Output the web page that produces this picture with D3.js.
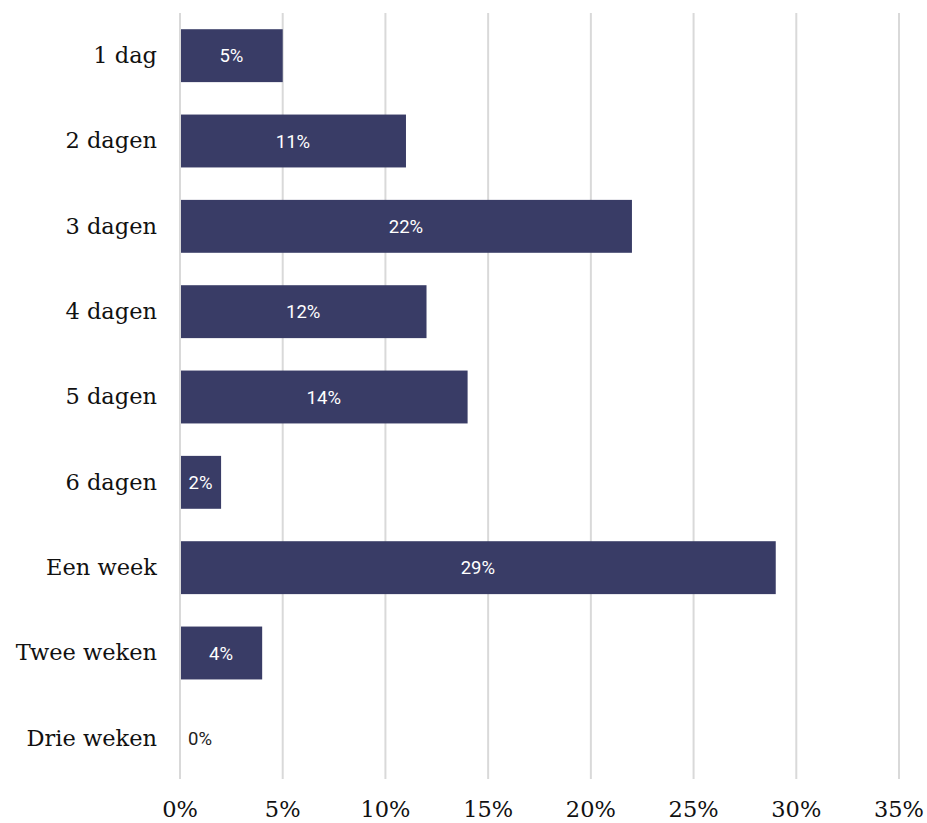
<!DOCTYPE html>
<html><head><meta charset="utf-8">
<script src="https://cdn.jsdelivr.net/npm/d3@7"></script>
<style>body{margin:0;background:#fff}</style>
</head><body><svg id="c" width="927" height="823"></svg>
<script>
const categories = ["1 dag","2 dagen","3 dagen","4 dagen","5 dagen","6 dagen","Een week","Twee weken","Drie weken"];
const values = [5,11,22,12,14,2,29,4,0];
const xTicks = [0,5,10,15,20,25,30,35];

const svg = d3.select("#c");
const x = d3.scaleLinear().domain([0,35]).range([180,899]);
const y = d3.scaleBand().domain(categories).range([13,781]).paddingInner(0.38).paddingOuter(0.19);

svg.append("g").selectAll("line").data(xTicks).join("line")
  .attr("x1",d=>x(d)).attr("x2",d=>x(d)).attr("y1",13).attr("y2",779)
  .attr("stroke","#d9d9d9").attr("stroke-width",2);

svg.append("g").selectAll("rect").data(values).join("rect")
  .attr("x",x(0)+1).attr("y",(d,i)=>y(categories[i]))
  .attr("width",d=>Math.max(0,x(d)-x(0)-1)).attr("height",y.bandwidth())
  .attr("fill","#393c66");

svg.append("g").selectAll("text").data(values).join("text")
  .attr("x",d=>Math.max((x(0)+x(d))/2, x(0)+20))
  .attr("y",(d,i)=>y(categories[i])+y.bandwidth()/2)
  .attr("dy","0.36em").attr("text-anchor","middle")
  .attr("font-family","Roboto, sans-serif").attr("font-size",18.5).attr("font-weight",400)
  .attr("fill",d=>d>0?"#ffffff":"#222")
  .text(d=>d+"%");

svg.append("g").selectAll("text").data(categories).join("text")
  .attr("x",157).attr("y",d=>y(d)+y.bandwidth()/2).attr("dy","0.33em")
  .attr("text-anchor","end").attr("font-family","'DejaVu Serif', serif").attr("font-size",22.5)
  .attr("fill","#111").text(d=>d);

svg.append("g").selectAll("text").data(xTicks).join("text")
  .attr("x",d=>x(d)).attr("y",817).attr("text-anchor","middle")
  .attr("font-family","'DejaVu Serif', serif").attr("font-size",22.5)
  .attr("fill","#111").text(d=>d+"%");
</script></body></html>
